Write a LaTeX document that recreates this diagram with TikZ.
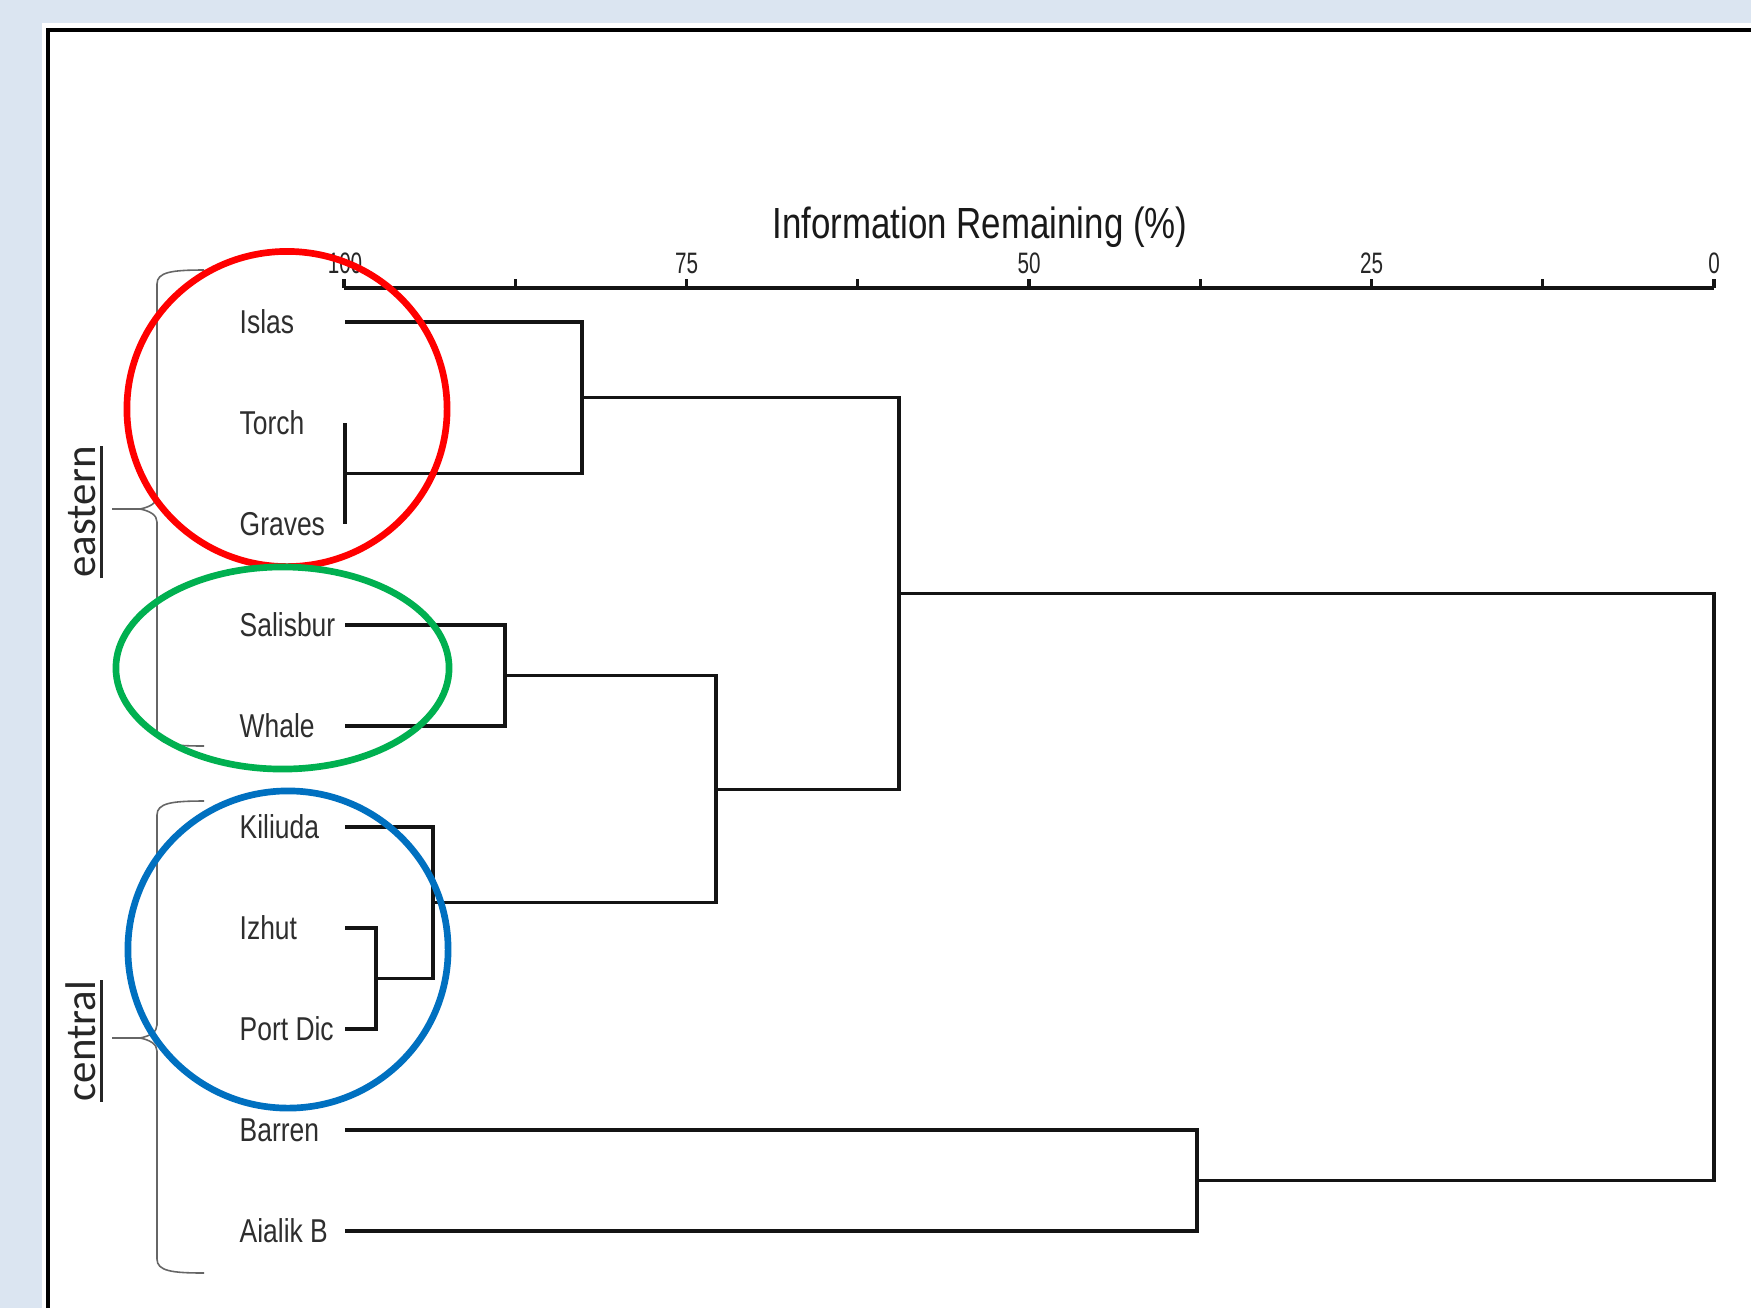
\documentclass[tikz,border=0pt]{standalone}
\usepackage{fontspec}
\usetikzlibrary{calc}
\setmainfont{Liberation Sans}
\newfontfamily\leaffont[FakeStretch=0.8]{Liberation Sans}
\newfontfamily\tickfont[FakeStretch=0.7]{Liberation Sans}
\newfontfamily\titlefont[FakeStretch=0.8]{Liberation Sans}
\newfontfamily\calfont{Carlito}
\definecolor{bgblue}{RGB}{219,229,241}
\definecolor{cred}{RGB}{255,0,0}
\definecolor{cgreen}{RGB}{0,176,80}
\definecolor{cblue}{RGB}{0,112,192}
\begin{document}
\begin{tikzpicture}[x=0.01cm,y=-0.01cm,
  leaf/.style={anchor=west, inner sep=0pt, text=black!82, font=\leaffont\fontsize{9.4}{11}\selectfont},
  ticklab/.style={anchor=base, inner sep=0pt, text=black!85, font=\tickfont\fontsize{8.4}{10}\selectfont},
  dend/.style={line width=0.9pt, black!92},
  axisline/.style={line width=0.9pt, black!92},
  brace/.style={line width=0.45pt, black!60},
  grp/.style={rotate=90, anchor=base, inner sep=0pt, text=black!85, font=\calfont\fontsize{12.2}{14}\selectfont},
  uline/.style={line width=0.85pt, black!85},
  circ/.style={line width=1.9pt}]
\useasboundingbox (0,0) rectangle (1751,1308);
\fill[bgblue] (0,0) rectangle (1751,1308);
\fill[white] (42,23) rectangle (1751,1308);
\draw[line width=1.15pt, black] (48,1308) -- (48,30) -- (1751,30);

% title and axis
\node[anchor=base, inner sep=0pt, text=black!90, font=\titlefont\fontsize{12.4}{14}\selectfont] (title) at (980,238) {Information Remaining (\%)};
\coordinate (ax0) at (344,288);
\coordinate (ax8) at (1714,288);
\draw[axisline] (ax0) -- (ax8);
\foreach \k in {0,...,8} {
  \draw[axisline] ($(ax0)!\k/8!(ax8)$) -- ++(0,-9);
}
\node[ticklab] (t100) at ($(ax0)!0/8!(ax8)+(1,-15)$) {100};
\node[ticklab] (t75) at ($(ax0)!2/8!(ax8)+(0,-15)$) {75};
\node[ticklab] (t50) at ($(ax0)!4/8!(ax8)+(0,-15)$) {50};
\node[ticklab] (t25) at ($(ax0)!6/8!(ax8)+(0,-15)$) {25};
\node[ticklab] (t0) at ($(ax0)!8/8!(ax8)+(0,-15)$) {0};

% leaves
\node[leaf] (n1) at (239,322) {Islas};
\node[leaf] (n2) at (239,423) {Torch};
\node[leaf] (n3) at (239,524) {Graves};
\node[leaf] (n4) at (239,625) {Salisbur};
\node[leaf] (n5) at (239,726) {Whale};
\node[leaf] (n6) at (239,827) {Kiliuda};
\node[leaf] (n7) at (239,928) {Izhut};
\node[leaf] (n8) at (239,1029) {Port Dic};
\node[leaf] (n9) at (239,1130) {Barren};
\node[leaf] (n10) at (239,1231) {Aialik B};

\coordinate (L1) at (345,322);
\coordinate (L2) at (345,423);
\coordinate (L3) at (345,524);
\coordinate (L4) at (345,625);
\coordinate (L5) at (345,726);
\coordinate (L6) at (345,827);
\coordinate (L7) at (345,928);
\coordinate (L8) at (345,1029);
\coordinate (L9) at (345,1130);
\coordinate (L10) at (345,1231);

% merge points
\coordinate (M23) at (345,473.5);
\coordinate (M1) at (582,397.75);
\coordinate (M45) at (505,675.5);
\coordinate (M78) at (376,978.5);
\coordinate (M6) at (433,902.75);
\coordinate (M48) at (716,789.1);
\coordinate (Mtop) at (899,593.4);
\coordinate (M910) at (1197,1180.5);
\coordinate (Root) at (1714,887);

\draw[dend] (L2) -| (M23) |- (L3);
\draw[dend] (L1) -| (M1) |- (M23);
\draw[dend] (L4) -| (M45) |- (L5);
\draw[dend] (L7) -| (M78) |- (L8);
\draw[dend] (L6) -| (M6) |- (M78);
\draw[dend] (M45) -| (M48) |- (M6);
\draw[dend] (M1) -| (Mtop) |- (M48);
\draw[dend] (L9) -| (M910) |- (L10);
\draw[dend] (Mtop) -| (Root) |- (M910);

% braces
\draw[brace] (204,270) .. controls (172,270) and (157,272) .. (157,284) -- (157,496)
  .. controls (157,503) and (150,507) .. (140,509)
  .. controls (150,511) and (157,515) .. (157,522) -- (157,732)
  .. controls (157,744) and (172,746) .. (204,746);
\draw[brace] (112,509) -- (140,509);
\draw[brace] (204,801) .. controls (172,801) and (157,803) .. (157,815) -- (157,1025)
  .. controls (157,1032) and (150,1036) .. (140,1038)
  .. controls (150,1040) and (157,1044) .. (157,1051) -- (157,1259)
  .. controls (157,1271) and (172,1273) .. (204,1273);
\draw[brace] (112,1038) -- (140,1038);

% group labels
\node[grp] (east) at (95,512) {eastern};
\draw[uline] ([xshift=1.5pt]east.south west) -- ([xshift=1.5pt]east.south east);
\node[grp] (cent) at (95,1041) {central};
\draw[uline] ([xshift=1.5pt]cent.south west) -- ([xshift=1.5pt]cent.south east);

% circles
\draw[circ, cred] (287,409) ellipse [x radius=1.60cm, y radius=1.575cm];
\draw[circ, cgreen] (282.5,668) ellipse [x radius=1.665cm, y radius=1.01cm];
\draw[circ, cblue] (288,949.5) ellipse [x radius=1.60cm, y radius=1.585cm];
\end{tikzpicture}
\end{document}
